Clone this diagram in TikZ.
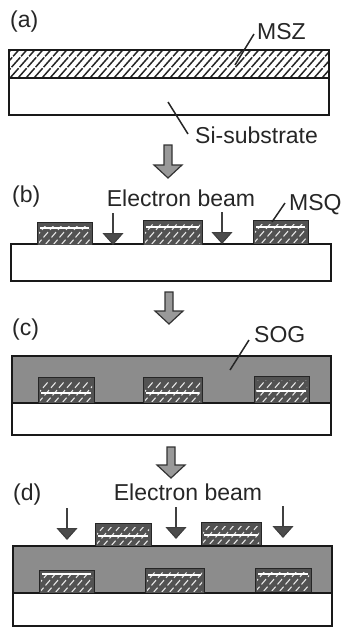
\documentclass[tikz,border=0pt]{standalone}
\usepackage{fontspec}
\setmainfont{Liberation Sans}
\usetikzlibrary{arrows.meta}
\tikzset{
  layer/.style = {draw = black!90, line width = 1.4pt},
  hatch/.style = {draw = #1, line width = .9pt},
  label/.style = {black!85, font=\fontsize{23}{23}\selectfont, inner sep = 0pt},
  leader/.style = {draw = black!85, line width = 1.5pt},
  beam/.style = {draw = black!75, line width = 1.2pt, -{Triangle[width=21pt,length=12pt,fill=black!70]}},
  step arrow/.style = {draw = black!80, line width = 1.2pt, fill = black!40}
}

\begin{document}
\begin{tikzpicture}[x=1pt,y=-1pt]
  \useasboundingbox (0,0) rectangle (345,629);
  % a
  \begin{scope}
    \clip (9,50) rectangle (329,78);
    \foreach \h in {-30,-22,...,330}{
      \draw[hatch=black!85,line width=1.5pt,dash pattern=on 13pt off 1.5pt] (\h,78) -- ++(30,-34);
    }
  \end{scope}
  \draw[layer] (9,50) rectangle (329,78);
  \draw[layer] (9,78) rectangle (329,115);
  % substrates of b, c, d
  \draw[layer] (11,244) rectangle (331,281);
  \draw[layer,fill=black!45] (12,356) rectangle (331,403);
  \draw[layer] (12,403) rectangle (331,435);
  \draw[layer,fill=black!45] (13,546) rectangle (332,593);
  \draw[layer] (13,593) rectangle (332,626);
  % msq blocks
  \foreach \xa/\ya/\xb/\yb/\yw in {37/222/92/245/228,143/220/202/245/227,253/220/308/244/227,
    38/377/94/403/393,143/377/202/403/393,254/376/309/403/391,
    39/570/94/593/574,145/568/204/593/575,255/568/311/592/574,
    95/523/151/546/536,201/522/261/545/535}{
    \fill[black!68] (\xa,\ya) rectangle (\xb,\yb);
    \begin{scope}
      \clip (\xa+2,\ya+4) rectangle (\xb-2,\yb-2);
      \foreach \h in {-24,-16,...,72}{
        \draw[hatch=white!90!black,line width=1.1pt,dash pattern=on 7pt off 3pt] (\xa+\h,\yb) -- ++(24,-28);
      }
    \end{scope}
    \draw[white,line width=1.3pt] (\xa+3,\yw) -- (\xb-3,\yw);
    \draw[black!85,line width=1pt] (\xa,\yb) |- (\xb,\ya) -- (\xb,\yb);
  }
  % step arrows
  \foreach \xc/\ys/\ye in {168/145/178,169/292/324,171/447/478}{
    \draw[step arrow] (\xc-4,\ys) -- (\xc-4,\ye-13) -- (\xc-14,\ye-13) -- (\xc,\ye)
      -- (\xc+14,\ye-13) -- (\xc+4,\ye-13) -- (\xc+4,\ys) -- cycle;
  }
  % beams
  \foreach \xc/\ys/\ye in {113/213/245,222/212/244,67/508/540,176/507/539,283/506/538}{
    \coordinate (beam top) at (\xc,\ys);
    \coordinate (beam end) at (\xc,\ye);
    \draw[beam] (beam top) -- (beam end);
  }
  % labels
  \node[label,anchor=west] (a label) at (10,22) {(a)};
  \node[label,anchor=west] (b label) at (12,197) {(b)};
  \node[label,anchor=west] (c label) at (12,330) {(c)};
  \node[label,anchor=west] (d label) at (13,495) {(d)};
  \node[label,anchor=west] (msz) at (257,32) {MSZ};
  \node[label,anchor=west] (si) at (195,135) {Si-substrate};
  \node[label,anchor=center] (beam b) at (181,198) {Electron beam};
  \node[label,anchor=center] (beam d) at (188,492) {Electron beam};
  \node[label,anchor=west] (msq) at (289,205) {MSQ};
  \node[label,anchor=west] (sog) at (254,335) {SOG};
  % leaders
  \coordinate (msz end) at (235,65);
  \coordinate (si end) at (168,102);
  \coordinate (msq end) at (272,222);
  \coordinate (sog end) at (230,370);
  \draw[leader] (msz.west) ++(-3,2) -- (msz end);
  \draw[leader] (si.west) ++(-7,-1) -- (si end);
  \draw[leader] (msq.west) ++(-4,-2) -- (msq end);
  \draw[leader] (sog.west) ++(-5,5) -- (sog end);
\end{tikzpicture}
\end{document}
